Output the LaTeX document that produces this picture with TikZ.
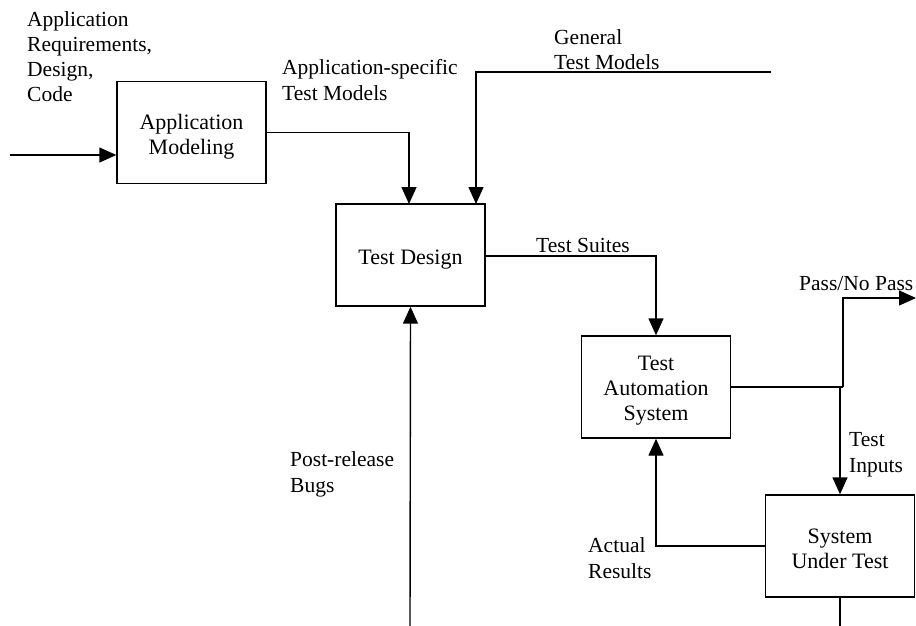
\documentclass[tikz,border=0pt]{standalone}
\usepackage{fontspec}
\setmainfont{Liberation Serif}
\usetikzlibrary{arrows.meta}
\tikzset{
  box/.style={draw, line width=1.4pt, minimum width=149pt, minimum height=102pt, align=center, inner sep=0pt, font=\fontsize{22}{25}\selectfont},
  lbl/.style={anchor=base west, align=left, inner sep=0pt, font=\fontsize{21.5}{25.3}\selectfont},
  conn/.style={line width=1.4pt},
  arr/.style={line width=1.4pt, -{Triangle[length=17pt,width=15pt]}}
}
\begin{document}
\begin{tikzpicture}[x=1pt,y=-1pt]
\useasboundingbox (0,0) rectangle (916,626);
\node[box, text height=48pt, text depth=5pt] (am) at (191.5,132.5) {Application\\Modeling};
\node[box, text height=24pt] (td) at (410.5,255) {Test Design};
\node[box, text height=71pt, text depth=5pt] (tas) at (656,387) {Test\\Automation\\System};
\node[box, text height=44pt, text depth=0pt] (sut) at (840,546) {System\\Under Test};
\coordinate (in) at (10,155);
\coordinate (gen) at (771,72);
\coordinate (pass) at (916,298);
\coordinate (bugs) at (410,626);
\coordinate (sutout) at (840,626);
\coordinate (split) at (843,387);
\draw[arr] (in) -- (in -| am.west);
\draw[arr] (am.east) -| (409,204);
\draw[arr] (gen) -| (476,204);
\draw[arr] (td.east |- 0,256) -| (tas.north);
\draw[conn] (tas.east) -- (split);
\draw[arr] (split) |- (pass);
\draw[arr] (840,387) -- (sut.north);
\draw[arr] (sut.west) -| (tas.south);
\draw[conn] (sut.south) -- (sutout);
\draw[arr] (bugs) -- (td.south);
\node[lbl] (l1) at (27,102) {Application\\Requirements,\\Design,\\Code};
\node[lbl] (l2) at (282,100) {Application-specific\\Test Models};
\node[lbl] (l3) at (554,70) {General\\Test Models};
\node[lbl] (l4) at (536,252) {Test Suites};
\node[lbl] (l5) at (799,290) {Pass/No Pass};
\node[lbl] (l6) at (849,472) {Test\\Inputs};
\node[lbl] (l7) at (588,578) {Actual\\Results};
\node[lbl] (l8) at (290,492) {Post-release\\Bugs};
\end{tikzpicture}
\end{document}
